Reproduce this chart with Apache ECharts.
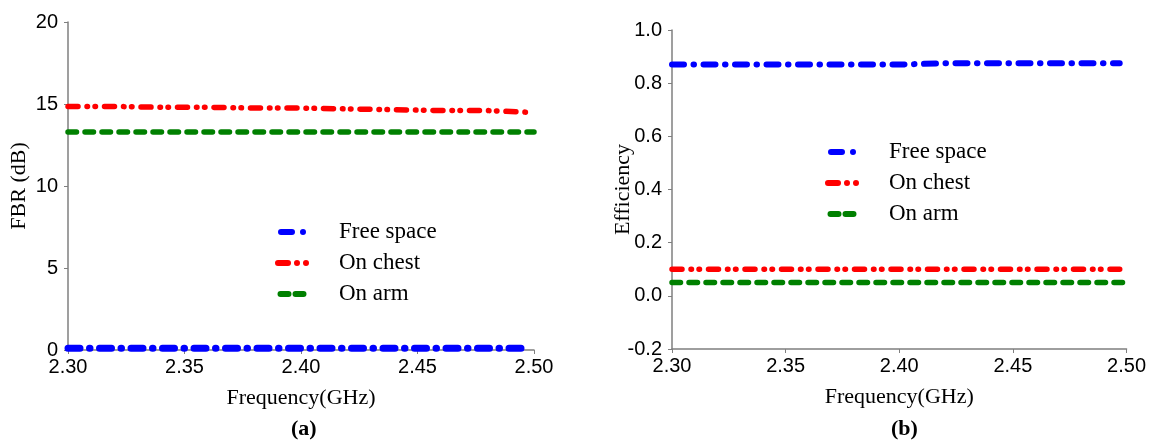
<!DOCTYPE html>
<html>
<head>
<meta charset="utf-8">
<script src="https://cdn.jsdelivr.net/npm/echarts@6/dist/echarts.min.js"></script>
<style>
  html, body { margin: 0; padding: 0; background: #fff; }
  #chart { width: 1149px; height: 442px; }
</style>
</head>
<body>
<div id="chart"></div>
<script>
// 频率 (GHz)
const freq = [2.30, 2.32, 2.34, 2.36, 2.38, 2.40, 2.42, 2.44, 2.46, 2.48, 2.497];
const freqArm = [2.30, 2.32, 2.34, 2.36, 2.38, 2.40, 2.42, 2.44, 2.46, 2.48, 2.50];
// (a) FBR (dB)
const fbrFree = [0.1, 0.1, 0.1, 0.1, 0.1, 0.1, 0.1, 0.1, 0.1, 0.1, 0.1];
const fbrChest = [14.85, 14.85, 14.8, 14.8, 14.75, 14.75, 14.7, 14.65, 14.6, 14.6, 14.5];
const fbrArm = [13.3, 13.3, 13.3, 13.3, 13.3, 13.3, 13.3, 13.3, 13.3, 13.3, 13.3];
// (b) Efficiency
const effFree = [0.87, 0.87, 0.87, 0.87, 0.87, 0.87, 0.875, 0.875, 0.875, 0.875, 0.875];
const effChest = [0.1, 0.1, 0.1, 0.1, 0.1, 0.1, 0.1, 0.1, 0.1, 0.1, 0.1];
const effArm = [0.05, 0.05, 0.05, 0.05, 0.05, 0.05, 0.05, 0.05, 0.05, 0.05, 0.05];
const names = ["Free space", "On chest", "On arm"];

const zip = (xs, ys) => xs.map((x, i) => [x, ys[i]]);

const axisColor = "#7f7f7f";
const serif = "Liberation Serif";
const sans = "Liberation Sans";

// 线型 + 图例图标
const styles = {
  "Free space": {
    color: "#0000ff",
    type: [12, 9.5, 0.5, 9.5],
    icon: "path://M6,0H17A3,3 0 0 1 17,6H6A3,3 0 0 1 6,0Z M28,0A3,3 0 0 1 28,6A3,3 0 0 1 28,0Z"
  },
  "On chest": {
    color: "#ff0000",
    type: [10, 9, 0.5, 7.5, 0.5, 9],
    icon: "path://M3,0H13A3,3 0 0 1 13,6H3A3,3 0 0 1 3,0Z M22,0A3,3 0 0 1 22,6A3,3 0 0 1 22,0Z M31,0A3,3 0 0 1 31,6A3,3 0 0 1 31,0Z"
  },
  "On arm": {
    color: "#008000",
    type: [8.5, 8.5],
    icon: "path://M8,0H16A3,3 0 0 1 16,6H8A3,3 0 0 1 8,0Z M23,0H31A3,3 0 0 1 31,6H23A3,3 0 0 1 23,0Z"
  }
};

const makeSeries = (name, data, idx, width) => ({
  name: name,
  type: "line",
  xAxisIndex: idx,
  yAxisIndex: idx,
  data: data,
  symbol: "none",
  lineStyle: {
    color: styles[name].color,
    width: width,
    type: styles[name].type,
    cap: "round"
  },
  itemStyle: { color: styles[name].color }
});

const xAxisCommon = {
  type: "value",
  min: 2.3,
  max: 2.5,
  interval: 0.05,
  name: "Frequency(GHz)",
  nameLocation: "middle",
  nameGap: 37,
  nameMoveOverlap: false,
  nameTextStyle: { fontFamily: serif, fontSize: 22, color: "#000" },
  axisLine: { onZero: false, lineStyle: { color: axisColor, width: 1.5 } },
  axisTick: { length: 4, lineStyle: { color: axisColor } },
  axisLabel: {
    fontFamily: sans, fontSize: 20, color: "#000", margin: 7,
    formatter: v => v.toFixed(2)
  },
  splitLine: { show: false }
};

const yAxisCommon = {
  type: "value",
  nameLocation: "middle",
  nameGap: 38,
  nameMoveOverlap: false,
  nameTextStyle: { fontFamily: serif, fontSize: 22, color: "#000" },
  axisLine: { show: true, onZero: false, lineStyle: { color: axisColor, width: 1.5 } },
  axisTick: { show: true, length: 4, lineStyle: { color: axisColor } },
  axisLabel: { fontFamily: sans, fontSize: 20, color: "#000", margin: 10 },
  splitLine: { show: false }
};

const legendCommon = {
  orient: "vertical",
  data: names.map(n => ({ name: n, icon: styles[n].icon })),
  itemWidth: 34,
  itemHeight: 6,
  itemGap: 7,
  textStyle: {
    fontFamily: serif, fontSize: 23, color: "#000", lineHeight: 24,
    padding: [0, 0, 0, 25]
  }
};

const chart = echarts.init(document.getElementById("chart"));
chart.setOption({
  animation: false,
  backgroundColor: "#fff",
  title: [
    { text: "(a)", left: 286, top: 413, textStyle: { fontFamily: serif, fontSize: 22, fontWeight: "bold", color: "#000" } },
    { text: "(b)", left: 886, top: 413, textStyle: { fontFamily: serif, fontSize: 22, fontWeight: "bold", color: "#000" } }
  ],
  grid: [
    { left: 68, top: 22, width: 466, height: 328 },
    { left: 672, top: 30, width: 457, height: 319 }
  ],
  xAxis: [
    Object.assign({ gridIndex: 0 }, xAxisCommon),
    Object.assign({ gridIndex: 1 }, xAxisCommon)
  ],
  yAxis: [
    Object.assign({}, yAxisCommon, {
      gridIndex: 0, min: 0, max: 20, interval: 5, name: "FBR (dB)"
    }),
    Object.assign({}, yAxisCommon, {
      gridIndex: 1, min: -0.2, max: 1.0, interval: 0.2, name: "Efficiency",
      axisLabel: Object.assign({}, yAxisCommon.axisLabel, { formatter: v => v.toFixed(1) })
    })
  ],
  legend: [
    Object.assign({ left: 270, top: 215 }, legendCommon),
    Object.assign({ left: 820, top: 135 }, legendCommon)
  ],
  series: [
    makeSeries("Free space", zip(freq, fbrFree), 0, 7),
    makeSeries("On chest", zip(freq, fbrChest), 0, 5.5),
    makeSeries("On arm", zip(freqArm, fbrArm), 0, 5.5),
    makeSeries("Free space", zip(freq, effFree), 1, 6),
    makeSeries("On chest", zip(freq, effChest), 1, 5.5),
    makeSeries("On arm", zip(freqArm, effArm), 1, 5.5)
  ]
});
</script>
</body>
</html>
